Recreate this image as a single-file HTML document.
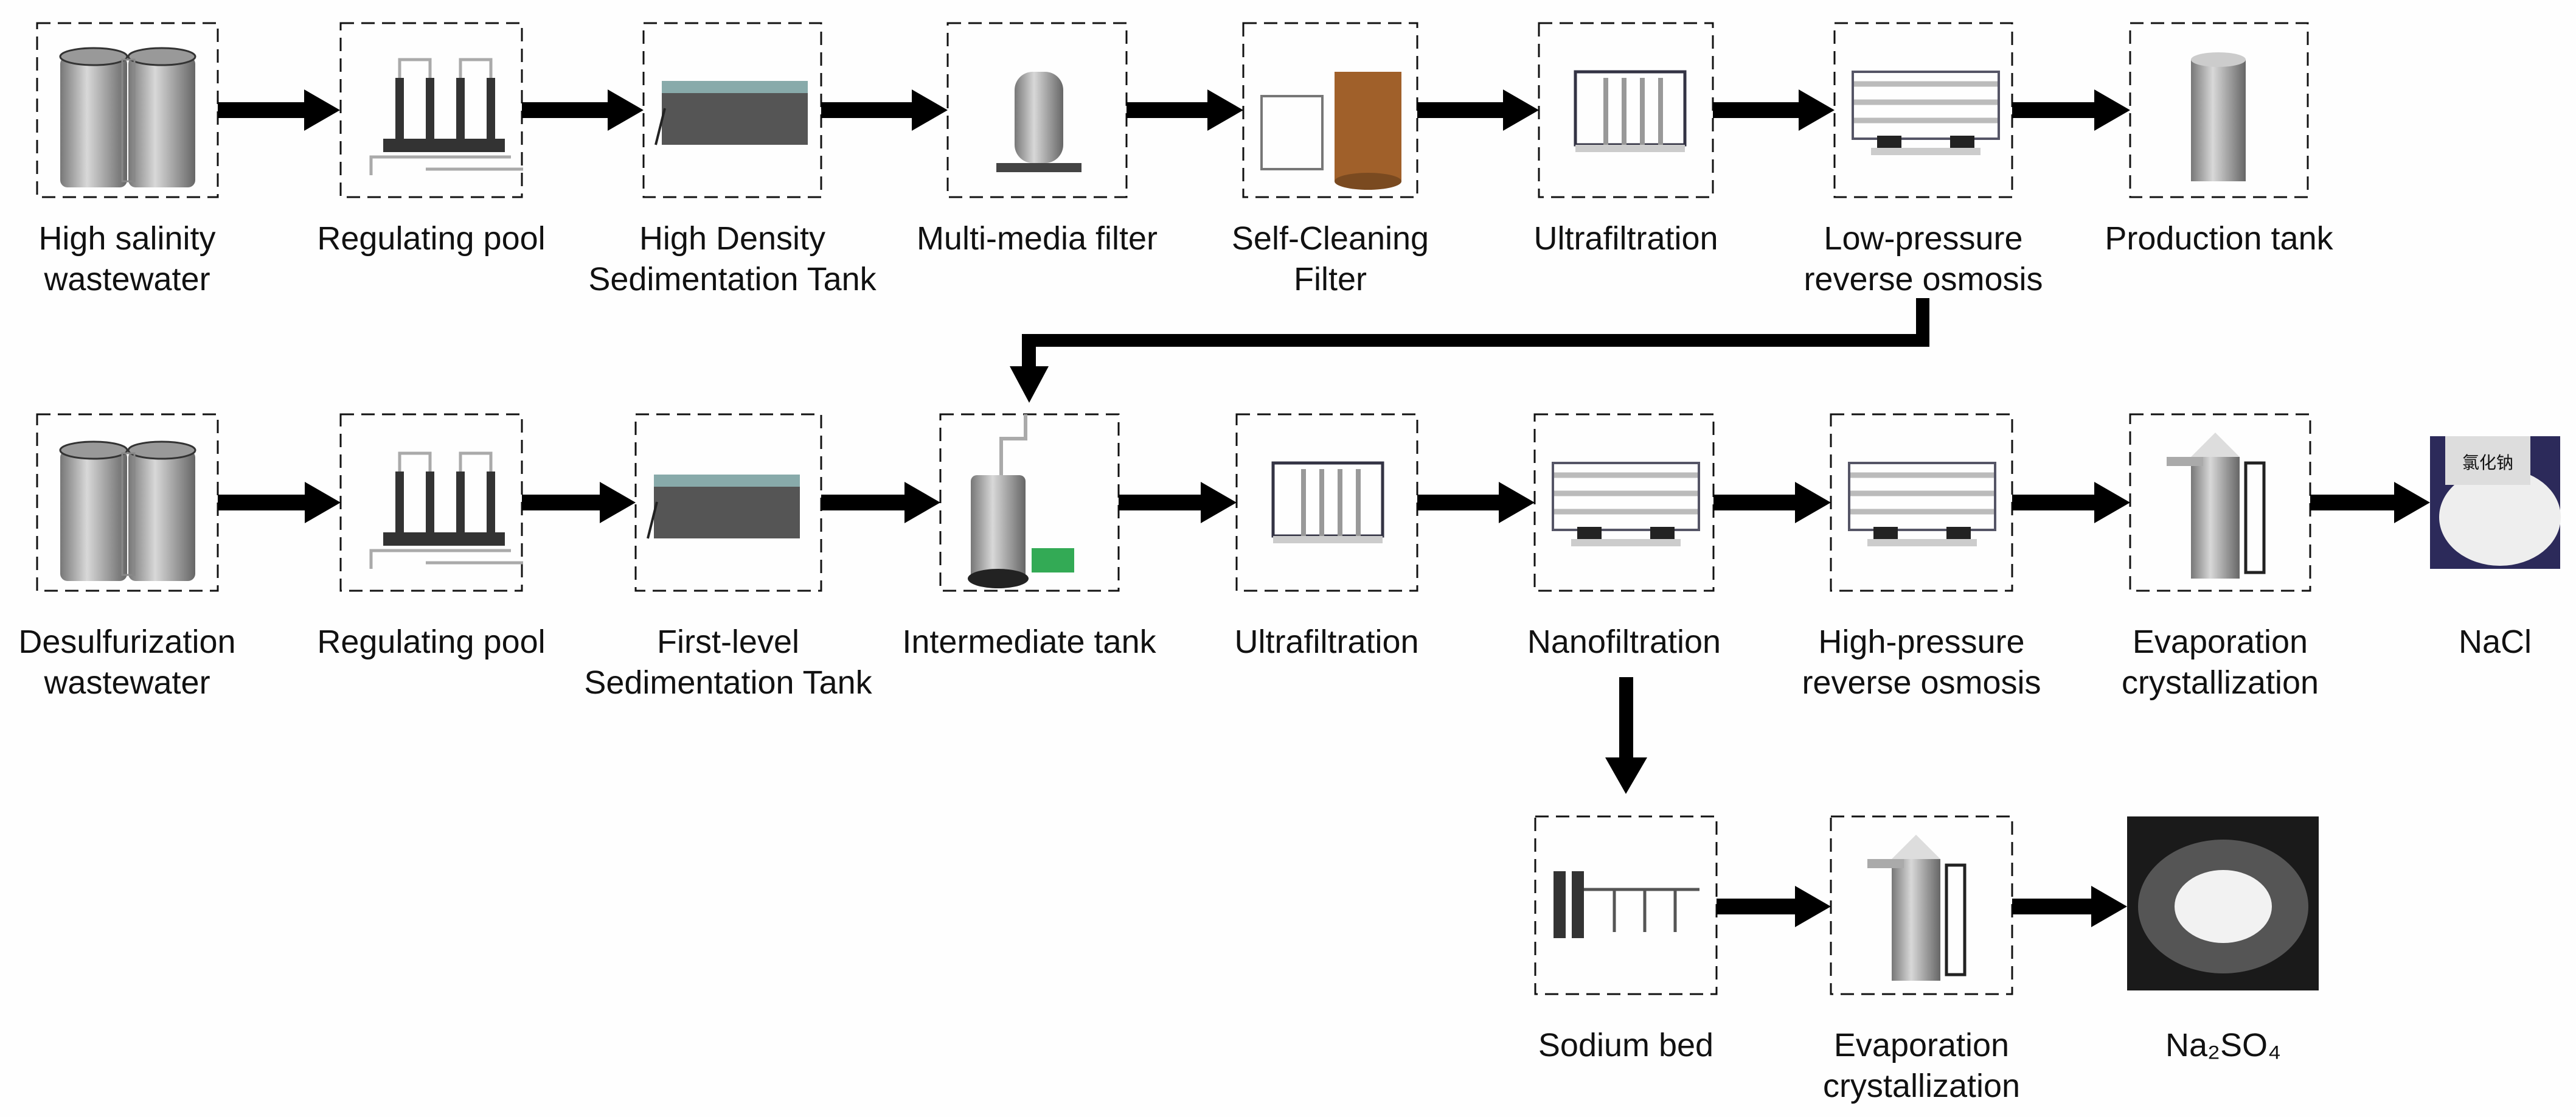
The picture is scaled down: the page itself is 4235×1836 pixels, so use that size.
<!DOCTYPE html>
<html><head><meta charset="utf-8"><style>
html,body{margin:0;padding:0;background:#fefefe;}
svg{display:block}
text{font-family:"Liberation Sans","Noto Sans CJK SC",sans-serif;font-size:54px;fill:#111;text-anchor:middle}
</style></head><body>
<svg width="4235" height="1836" viewBox="0 0 4235 1836" xmlns="http://www.w3.org/2000/svg">
<defs>
<linearGradient id="cyl" x1="0" x2="1"><stop offset="0" stop-color="#777"/><stop offset="0.4" stop-color="#d8d8d8"/><stop offset="1" stop-color="#666"/></linearGradient>
<g id="tanks"><rect x="38" y="55" width="110" height="215" rx="12" fill="url(#cyl)"/><rect x="150" y="55" width="110" height="215" rx="12" fill="url(#cyl)"/><ellipse cx="93" cy="55" rx="55" ry="14" fill="#999" stroke="#333" stroke-width="3"/><ellipse cx="205" cy="55" rx="55" ry="14" fill="#999" stroke="#333" stroke-width="3"/><rect x="140" y="60" width="20" height="200" fill="none" stroke="#888" stroke-width="3"/></g>
<g id="pumps"><rect x="70" y="190" width="200" height="22" fill="#333"/><g fill="#333"><rect x="90" y="90" width="14" height="100"/><rect x="140" y="90" width="14" height="100"/><rect x="190" y="90" width="14" height="100"/><rect x="240" y="90" width="14" height="100"/></g><path d="M97 90V60h50v30M197 90V60h50v30M50 250v-30h230M140 240h160" fill="none" stroke="#aaa" stroke-width="5"/></g>
<g id="sed"><rect x="30" y="110" width="240" height="90" fill="#555"/><rect x="30" y="95" width="240" height="20" fill="#8aa"/><path d="M20 200l15-60" stroke="#222" stroke-width="4"/></g>
<g id="frame"><rect x="60" y="80" width="180" height="120" fill="none" stroke="#334" stroke-width="5"/><g stroke="#999" stroke-width="8"><line x1="110" y1="90" x2="110" y2="200"/><line x1="140" y1="90" x2="140" y2="200"/><line x1="170" y1="90" x2="170" y2="200"/><line x1="200" y1="90" x2="200" y2="200"/></g><rect x="60" y="200" width="180" height="12" fill="#ccc"/></g>
<g id="ro"><g stroke="#bbb" stroke-width="9"><line x1="30" y1="100" x2="270" y2="100"/><line x1="30" y1="130" x2="270" y2="130"/><line x1="30" y1="160" x2="270" y2="160"/></g><rect x="30" y="80" width="240" height="110" fill="none" stroke="#556" stroke-width="4"/><rect x="70" y="185" width="40" height="20" fill="#222"/><rect x="190" y="185" width="40" height="20" fill="#222"/><rect x="60" y="205" width="180" height="12" fill="#ccc"/></g>
<g id="evap"><rect x="100" y="70" width="80" height="200" fill="url(#cyl)"/><path d="M100 70l40-40 40 40z" fill="#ddd"/><rect x="60" y="70" width="60" height="15" fill="#aaa"/><rect x="190" y="80" width="30" height="180" fill="none" stroke="#222" stroke-width="5"/></g>
</defs>

<g fill="none" stroke="#111" stroke-width="3" stroke-dasharray="22,12">
<rect x="61" y="38" width="297" height="286"/><rect x="560" y="38" width="298" height="286"/><rect x="1058" y="38" width="292" height="286"/><rect x="1558" y="38" width="294" height="286"/><rect x="2044" y="38" width="286" height="286"/><rect x="2530" y="38" width="286" height="286"/><rect x="3016" y="38" width="292" height="286"/><rect x="3502" y="38" width="292" height="286"/>
<rect x="61" y="681" width="297" height="290"/><rect x="560" y="681" width="298" height="290"/><rect x="1045" y="681" width="305" height="290"/><rect x="1546" y="681" width="293" height="290"/><rect x="2033" y="681" width="297" height="290"/><rect x="2523" y="681" width="294" height="290"/><rect x="3010" y="681" width="298" height="290"/><rect x="3502" y="681" width="296" height="290"/>
<rect x="2524" y="1342" width="298" height="292"/><rect x="3010" y="1342" width="298" height="292"/>
</g>

<!-- equipment -->
<use href="#tanks" x="61" y="38"/><use href="#pumps" x="560" y="38"/><use href="#sed" x="1058" y="38"/>
<g transform="translate(1558,38)"><rect x="110" y="80" width="80" height="150" rx="30" fill="url(#cyl)"/><rect x="80" y="230" width="140" height="15" fill="#444"/></g>
<g transform="translate(2044,38)"><rect x="150" y="80" width="110" height="180" fill="#a0602a"/><ellipse cx="205" cy="260" rx="55" ry="14" fill="#7a4a20"/><rect x="30" y="120" width="100" height="120" fill="none" stroke="#777" stroke-width="4"/></g>
<use href="#frame" x="2530" y="38"/><use href="#ro" x="3016" y="38"/>
<g transform="translate(3502,38)"><rect x="100" y="60" width="90" height="200" fill="url(#cyl)"/><ellipse cx="145" cy="60" rx="45" ry="12" fill="#ccc"/></g>
<use href="#tanks" x="61" y="685"/><use href="#pumps" x="560" y="685"/><use href="#sed" x="1045" y="685"/>
<g transform="translate(1546,681)"><rect x="50" y="100" width="90" height="180" rx="10" fill="url(#cyl)"/><ellipse cx="95" cy="270" rx="50" ry="16" fill="#222"/><rect x="150" y="220" width="70" height="40" fill="#3a5"/><path d="M100 100V40h40V0" fill="none" stroke="#aaa" stroke-width="6"/></g>
<use href="#frame" x="2033" y="681"/><use href="#ro" x="2523" y="681"/><use href="#ro" x="3010" y="681"/><use href="#evap" x="3502" y="681"/>
<g transform="translate(2524,1342)"><rect x="30" y="90" width="20" height="110" fill="#333"/><rect x="60" y="90" width="20" height="110" fill="#333"/><path d="M80 120H270M130 120v70M180 120v70M230 120v70" fill="none" stroke="#555" stroke-width="5"/></g>
<use href="#evap" x="3010" y="1342"/>
<rect x="3995" y="717" width="214" height="218" fill="#2c2a5a"/><ellipse cx="4110" cy="850" rx="100" ry="80" fill="#eee"/><rect x="4020" y="717" width="140" height="80" fill="#ddd"/><text x="4090" y="770" style="font-size:28px">氯化钠</text>
<rect x="3497" y="1342" width="315" height="286" fill="#1a1a1a"/><ellipse cx="3655" cy="1490" rx="140" ry="110" fill="#555"/><ellipse cx="3655" cy="1490" rx="80" ry="60" fill="#f2f2f2"/>

<!-- arrows -->
<g fill="#000">
<path id="ha" d="M0 0"/>
</g>
<g fill="#000" id="arrows"></g>
<g fill="#000">
<!-- row1 y=181 -->
<path d="M358 168H500V147L559 181L500 215V194H358Z"/>
<path d="M858 168H999V147L1058 181L999 215V194H858Z"/>
<path d="M1350 168H1499V147L1558 181L1499 215V194H1350Z"/>
<path d="M1852 168H1985V147L2044 181L1985 215V194H1852Z"/>
<path d="M2330 168H2471V147L2530 181L2471 215V194H2330Z"/>
<path d="M2816 168H2957V147L3016 181L2957 215V194H2816Z"/>
<path d="M3308 168H3443V147L3502 181L3443 215V194H3308Z"/>
<!-- row2 y=826 -->
<path d="M358 813H501V792L560 826L501 860V839H358Z"/>
<path d="M858 813H986V792L1045 826L986 860V839H858Z"/>
<path d="M1350 813H1487V792L1546 826L1487 860V839H1350Z"/>
<path d="M1839 813H1974V792L2033 826L1974 860V839H1839Z"/>
<path d="M2330 813H2464V792L2523 826L2464 860V839H2330Z"/>
<path d="M2817 813H2951V792L3010 826L2951 860V839H2817Z"/>
<path d="M3308 813H3443V792L3502 826L3443 860V839H3308Z"/>
<path d="M3798 813H3936V792L3995 826L3936 860V839H3798Z"/>
<!-- row3 y=1490 -->
<path d="M2822 1477H2951V1456L3010 1490L2951 1524V1503H2822Z"/>
<path d="M3308 1477H3438V1456L3497 1490L3438 1524V1503H3308Z"/>
<!-- connector -->
<path d="M3150 490H3172V570H1703V602H1724L1692 662L1660 602H1680V549H3150Z"/>
<!-- down arrow -->
<path d="M2662 1113H2685V1245H2708L2673 1305L2639 1245H2662Z"/>
</g>

<!-- labels -->
<text x="209" y="410">High salinity</text><text x="209" y="477">wastewater</text>
<text x="709" y="410">Regulating pool</text>
<text x="1204" y="410">High Density</text><text x="1204" y="477">Sedimentation Tank</text>
<text x="1705" y="410">Multi-media filter</text>
<text x="2187" y="410">Self-Cleaning</text><text x="2187" y="477">Filter</text>
<text x="2673" y="410">Ultrafiltration</text>
<text x="3162" y="410">Low-pressure</text><text x="3162" y="477">reverse osmosis</text>
<text x="3648" y="410">Production tank</text>

<text x="209" y="1073">Desulfurization</text><text x="209" y="1140">wastewater</text>
<text x="709" y="1073">Regulating pool</text>
<text x="1197" y="1073">First-level</text><text x="1197" y="1140">Sedimentation Tank</text>
<text x="1692" y="1073">Intermediate tank</text>
<text x="2181" y="1073">Ultrafiltration</text>
<text x="2670" y="1073">Nanofiltration</text>
<text x="3159" y="1073">High-pressure</text><text x="3159" y="1140">reverse osmosis</text>
<text x="3650" y="1073">Evaporation</text><text x="3650" y="1140">crystallization</text>
<text x="4102" y="1073">NaCl</text>

<text x="2673" y="1736">Sodium bed</text>
<text x="3159" y="1736">Evaporation</text><text x="3159" y="1803">crystallization</text>
<text x="3655" y="1736">Na₂SO₄</text>
</svg>
</body></html>
